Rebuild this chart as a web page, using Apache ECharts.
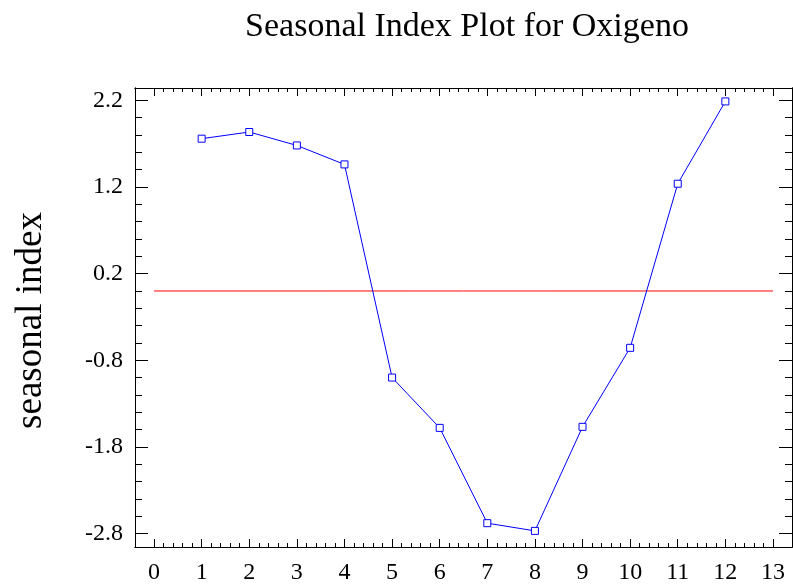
<!DOCTYPE html>
<html>
<head>
<meta charset="utf-8">
<script src="https://cdn.jsdelivr.net/npm/echarts@6/dist/echarts.min.js"></script>
<style>
  html, body { margin: 0; padding: 0; background: #fff; }
  #chart { width: 793px; height: 587px; }
</style>
</head>
<body>
<div id="chart"></div>
<script>
// Season number and its seasonal index
const seasons = [1, 2, 3, 4, 5, 6, 7, 8, 9, 10, 11, 12];
const seasonalIndex = [1.758, 1.835, 1.680, 1.461, -0.999, -1.580, -2.680, -2.769, -1.568, -0.656, 1.238, 2.188];

// Reference level drawn across the seasons
const refLevel = 0;
const refSpan = [0, 13];

// Axis ticks
const xTicks = [0, 1, 2, 3, 4, 5, 6, 7, 8, 9, 10, 11, 12, 13];
const yTicks = [-2.8, -1.8, -0.8, 0.2, 1.2, 2.2];

// Minor ticks: five steps between each pair of major ticks
function minorTicks(major) {
  const out = [];
  for (let i = 0; i < major.length - 1; i++) {
    const a = major[i], b = major[i + 1];
    for (let k = 0; k < 5; k++) out.push(+(a + (b - a) * k / 5).toFixed(4));
  }
  out.push(major[major.length - 1]);
  return out;
}
const xMinor = minorTicks(xTicks);
const yMinor = minorTicks(yTicks);

const X_MIN = -0.4, X_MAX = 13.4;
const Y_MIN = -2.955, Y_MAX = 2.343;

const FONT = "'Liberation Serif', 'Times New Roman', serif";

function xAxis(position, ticks, len, labels) {
  return {
    type: 'value', position: position, min: X_MIN, max: X_MAX,
    axisLine: { show: true, onZero: false, lineStyle: { color: '#000', width: 1 } },
    splitLine: { show: false },
    axisTick: { show: true, inside: true, length: len, customValues: ticks,
                lineStyle: { color: '#000', width: 1 } },
    axisLabel: { show: labels, customValues: ticks, margin: 14, color: '#000',
                 fontFamily: FONT, fontSize: 24, formatter: v => String(Math.round(v)) }
  };
}

function yAxis(position, ticks, len, labels, extra) {
  return Object.assign({
    type: 'value', position: position, min: Y_MIN, max: Y_MAX,
    axisLine: { show: true, onZero: false, lineStyle: { color: '#000', width: 1 } },
    splitLine: { show: false },
    axisTick: { show: true, inside: true, length: len, customValues: ticks,
                lineStyle: { color: '#000', width: 1 } },
    axisLabel: { show: labels, customValues: ticks, margin: 12, color: '#000',
                 fontFamily: FONT, fontSize: 24, formatter: v => v.toFixed(1) }
  }, extra || {});
}

const chart = echarts.init(document.getElementById('chart'), null, { renderer: 'canvas' });

chart.setOption({
  animation: false,
  backgroundColor: '#fff',
  title: {
    text: 'Seasonal Index Plot for Oxigeno',
    left: 462, top: 5, textAlign: 'center',
    textStyle: { fontFamily: FONT, fontSize: 34, fontWeight: 'normal', color: '#000' }
  },
  grid: { left: 135, top: 88, right: 1, bottom: 40, containLabel: false },
  xAxis: [
    xAxis('bottom', xTicks, 8, true),
    xAxis('bottom', xMinor, 4, false),
    xAxis('top', xTicks, 8, false),
    xAxis('top', xMinor, 4, false)
  ],
  yAxis: [
    yAxis('left', yTicks, 13, true, {
      name: 'seasonal index', nameLocation: 'middle', nameRotate: 90, nameGap: 85,
      nameTextStyle: { fontFamily: FONT, fontSize: 37, color: '#000', padding: [0, 6, 0, 0] }
    }),
    yAxis('left', yMinor, 7, false),
    yAxis('right', yTicks, 13, false),
    yAxis('right', yMinor, 7, false)
  ],
  series: [
    {
      type: 'line', xAxisIndex: 0, yAxisIndex: 0,
      data: refSpan.map(x => [x, refLevel]),
      showSymbol: false, symbol: 'none',
      lineStyle: { color: '#ff0000', width: 1 },
      silent: true
    },
    {
      type: 'line', xAxisIndex: 0, yAxisIndex: 0,
      data: seasons.map((s, i) => [s, seasonalIndex[i]]),
      symbol: 'rect', symbolSize: 7, showSymbol: true,
      itemStyle: { color: '#fff', borderColor: '#0000ff', borderWidth: 1 },
      lineStyle: { color: '#0000ff', width: 1 }
    }
  ]
});
</script>
</body>
</html>
